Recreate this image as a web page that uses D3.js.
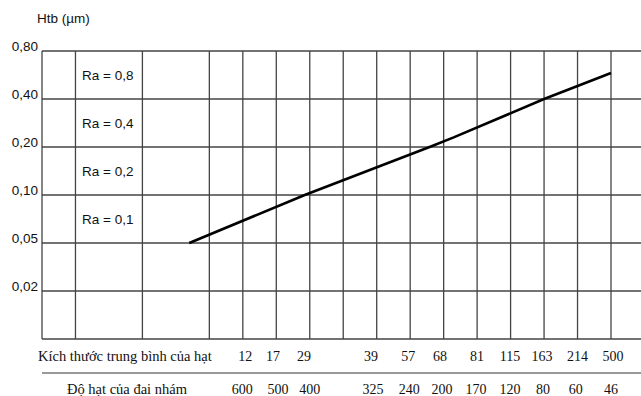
<!DOCTYPE html>
<html>
<head>
<meta charset="utf-8">
<script src="https://cdn.jsdelivr.net/npm/d3@7"></script>
<style>
  html, body { margin: 0; padding: 0; background: #fff; }
  svg { display: block; }
</style>
</head>
<body>
<svg id="chart" width="641" height="396"></svg>
<script>
// ---- data ----
const yLevelLabels = ["0,02", "0,05", "0,10", "0,20", "0,40", "0,80"]; // levels 1..6
const raLabels = ["Ra = 0,8", "Ra = 0,4", "Ra = 0,2", "Ra = 0,1"];      // rows from top
const gridCols = [0, 1, 3, 5, 6, 7, 8, 9, 10, 11, 12, 13, 14, 15, 16, 17];
// grain size row
const grainSizeLabels = ["12", "17", "29", "39", "57", "68", "81", "115", "163", "214", "500"];
const grainSizeCols   = [6.07, 6.9, 7.83, 9.83, 10.94, 11.89, 13.0, 13.98, 14.94, 16.0, 17.06];
// belt grit row
const gritLabels = ["600", "500", "400", "325", "240", "200", "170", "120", "80", "60", "46"];
const gritCols   = [5.98, 7.05, 8.0, 9.89, 10.97, 11.95, 12.97, 13.98, 14.97, 15.95, 17.0];
// curve (column position, level position)
const curveCol   = [4.4, 7.85, 11.58, 12.3, 15.0, 17.0];
const curveLevel = [2.0, 3.0, 4.0, 4.2, 5.0, 5.54];

// ---- scales ----
const svg = d3.select("#chart");
const x = d3.scaleLinear().domain([0, 17]).range([42, 611]);
const y = d3.scaleLinear().domain([0, 6]).range([339, 51]);
const xRight = 641;

const gridColor = "#444";

// horizontal grid lines
svg.append("g").selectAll("line")
  .data(d3.range(0, 7))
  .join("line")
  .attr("x1", x(0)).attr("x2", xRight)
  .attr("y1", d => y(d)).attr("y2", d => y(d))
  .attr("stroke", gridColor).attr("stroke-width", 1.3);

// vertical grid lines
svg.append("g").selectAll("line")
  .data(gridCols)
  .join("line")
  .attr("x1", d => x(d)).attr("x2", d => x(d))
  .attr("y1", y(6)).attr("y2", y(0))
  .attr("stroke", gridColor).attr("stroke-width", 1.3);

// y labels
svg.append("g").selectAll("text")
  .data(yLevelLabels)
  .join("text")
  .attr("x", 38)
  .attr("y", (d, i) => y(i + 1) - 0.5)
  .attr("text-anchor", "end")
  .attr("font-family", "Liberation Sans, Arial, sans-serif")
  .attr("font-size", 13.5)
  .attr("fill", "#111")
  .text(d => d);

// axis title
svg.append("text")
  .attr("x", 37).attr("y", 23)
  .attr("font-family", "Liberation Sans, Arial, sans-serif")
  .attr("font-size", 13.5)
  .attr("fill", "#111")
  .text("Htb (µm)");

// Ra labels inside rows
svg.append("g").selectAll("text")
  .data(raLabels)
  .join("text")
  .attr("x", 82)
  .attr("y", (d, i) => (y(6 - i) + y(5 - i)) / 2 + 5)
  .attr("font-family", "Liberation Sans, Arial, sans-serif")
  .attr("font-size", 13.5)
  .attr("fill", "#111")
  .text(d => d);

// curve
const line = d3.line().x(d => x(d[0])).y(d => y(d[1]));
svg.append("path")
  .datum(curveCol.map((c, i) => [c, curveLevel[i]]))
  .attr("d", line)
  .attr("fill", "none")
  .attr("stroke", "#000")
  .attr("stroke-width", 2.6);

// bottom rows
const serif = "Liberation Serif, Times New Roman, serif";
svg.append("text")
  .attr("x", 38).attr("y", 361)
  .attr("font-family", serif).attr("font-size", 14.5).attr("fill", "#111")
  .text("Kích thước trung bình của hạt");

svg.append("g").selectAll("text")
  .data(grainSizeLabels)
  .join("text")
  .attr("x", (d, i) => x(grainSizeCols[i]))
  .attr("y", 361)
  .attr("text-anchor", "middle")
  .attr("font-family", serif).attr("font-size", 14).attr("fill", "#111")
  .text(d => d);

svg.append("line")
  .attr("x1", x(0)).attr("x2", xRight)
  .attr("y1", 373).attr("y2", 373)
  .attr("stroke", "#777").attr("stroke-width", 1.5);

svg.append("text")
  .attr("x", 67).attr("y", 394)
  .attr("font-family", serif).attr("font-size", 14.5).attr("fill", "#111")
  .text("Độ hạt của đai nhám");

svg.append("g").selectAll("text")
  .data(gritLabels)
  .join("text")
  .attr("x", (d, i) => x(gritCols[i]))
  .attr("y", 394)
  .attr("text-anchor", "middle")
  .attr("font-family", serif).attr("font-size", 14).attr("fill", "#111")
  .text(d => d);
</script>
</body>
</html>
